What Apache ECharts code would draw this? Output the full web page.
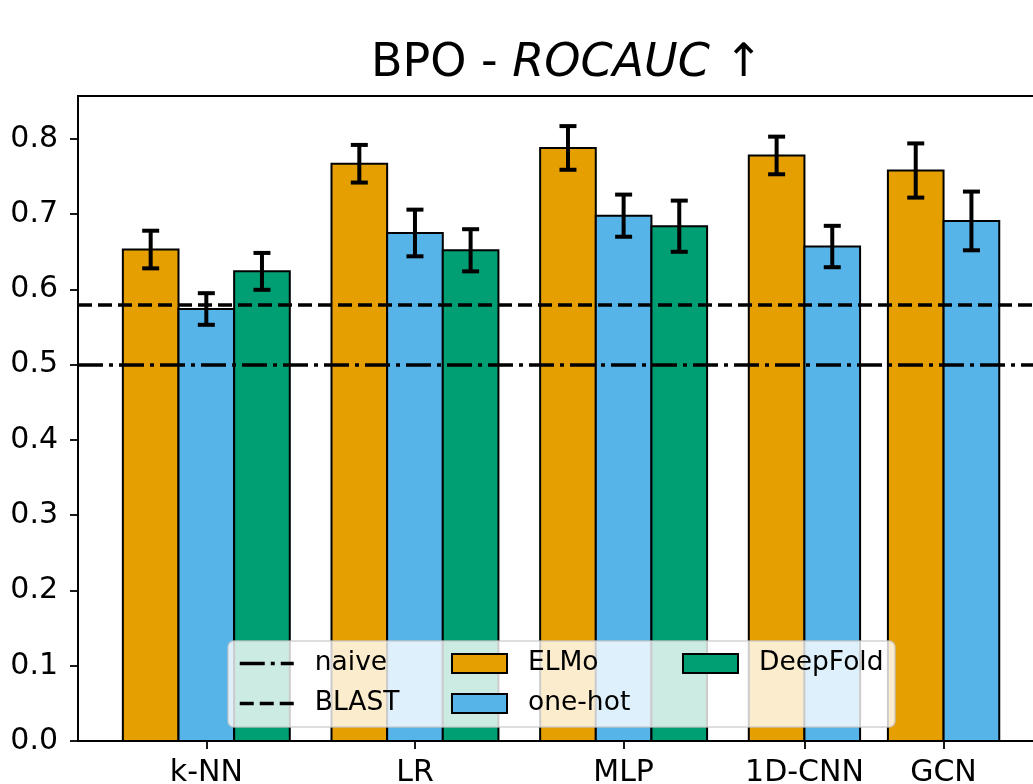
<!DOCTYPE html>
<html>
<head>
<meta charset="utf-8">
<script src="https://cdn.jsdelivr.net/npm/echarts@6/dist/echarts.min.js"></script>
<style>
html,body{margin:0;padding:0;background:#fff;}
#chart{width:1033px;height:784px;}
</style>
</head>
<body>
<div id="chart"></div>
<script>
// ---- data ----
const categories = ['k-NN', 'LR', 'MLP', '1D-CNN', 'GCN'];
const categoryPositions = [0, 1, 2, 2.867, 3.533];
const barWidthUnits = 0.2667;

const elmoX = [-0.2667, 0.7333, 1.7333, 2.7333, 3.4];
const elmoMean = [0.653, 0.767, 0.788, 0.778, 0.758];
const elmoErr = [0.025, 0.025, 0.029, 0.025, 0.036];

const onehotX = [0, 1, 2, 3, 3.667];
const onehotMean = [0.574, 0.675, 0.698, 0.657, 0.691];
const onehotErr = [0.021, 0.031, 0.028, 0.0275, 0.039];

const deepfoldX = [0.2667, 1.2667, 2.2667];
const deepfoldMean = [0.624, 0.652, 0.684];
const deepfoldErr = [0.0245, 0.028, 0.034];

const naiveValue = 0.5;
const blastValue = 0.583;

const yTickValues = [0, 0.1, 0.2, 0.3, 0.4, 0.5, 0.6, 0.7, 0.8];

// ---- build ----
const FONT = 'DejaVu Sans';
const colors = { ELMo: '#E69F00', 'one-hot': '#56B4E9', DeepFold: '#009E73' };
const naiveDash = [25, 6, 4, 6];
const blastDash = [14, 6];

function zip(xs, ys, es) {
  return xs.map((x, i) => es ? [x, ys[i], es[i]] : [x, ys[i]]);
}

function barRender(params, api) {
  const x = api.value(0), y = api.value(1);
  const p0 = api.coord([x - barWidthUnits / 2, y]);
  const p1 = api.coord([x + barWidthUnits / 2, 0]);
  return {
    type: 'rect',
    shape: { x: p0[0], y: p0[1], width: p1[0] - p0[0], height: p1[1] - p0[1] },
    style: { fill: api.visual('color'), stroke: '#000', lineWidth: 2 }
  };
}

function errRender(params, api) {
  const x = api.value(0), m = api.value(1), e = api.value(2);
  const top = api.coord([x, m + e]);
  const bot = api.coord([x, m - e]);
  const cap = 8.5;
  const st = { stroke: '#000', lineWidth: 4 };
  return {
    type: 'group',
    children: [
      { type: 'line', shape: { x1: top[0], y1: top[1], x2: bot[0], y2: bot[1] }, style: st },
      { type: 'line', shape: { x1: top[0] - cap, y1: top[1], x2: top[0] + cap, y2: top[1] }, style: st },
      { type: 'line', shape: { x1: bot[0] - cap, y1: bot[1], x2: bot[0] + cap, y2: bot[1] }, style: st }
    ]
  };
}

function barSeries(name, xs, ys) {
  return {
    name: name, type: 'custom', renderItem: barRender, z: 2,
    itemStyle: { color: colors[name], borderColor: '#000', borderWidth: 2 },
    encode: { x: 0, y: 1 },
    data: zip(xs, ys)
  };
}
function errSeries(name, xs, ys, es) {
  return {
    name: name + ' err', type: 'custom', renderItem: errRender, z: 4,
    encode: { x: 0, y: [1] },
    data: zip(xs, ys, es)
  };
}
function hLine(name, value, dash) {
  return {
    name: name, type: 'line', data: [], symbol: 'none', z: 5,
    lineStyle: { color: '#000', width: 3.5, type: dash },
    itemStyle: { color: '#000' },
    markLine: {
      silent: true, symbol: 'none', label: { show: false },
      lineStyle: { color: '#000', width: 3.5, type: dash },
      emphasis: { disabled: true },
      animation: false,
      data: [{ yAxis: value }]
    }
  };
}

const legendText = { fontFamily: FONT, fontSize: 26.5, color: '#000', padding: [0, 0, 0, 16] };

const option = {
  animation: false,
  backgroundColor: '#fff',
  title: {
    text: '{a|BPO - }{b|ROCAUC}{a| ↑}',
    left: 562, top: 36, textAlign: 'center',
    textStyle: {
      fontWeight: 'normal',
      rich: {
        a: { fontFamily: FONT, fontSize: 46, color: '#000', fontWeight: 'normal' },
        b: { fontFamily: FONT, fontSize: 46, color: '#000', fontStyle: 'italic', fontWeight: 'normal' }
      }
    }
  },
  grid: {
    left: 78, right: -10, top: 96, bottom: 43,
    outerBoundsMode: 'none', containLabel: false,
    show: true, borderColor: '#000', borderWidth: 1.8, backgroundColor: 'transparent'
  },
  xAxis: {
    type: 'value', min: -0.615, max: 4.01,
    splitLine: { show: false },
    axisLine: { show: true, onZero: false, lineStyle: { color: '#000', width: 1.8 } },
    axisTick: { show: true, customValues: categoryPositions, length: 8, lineStyle: { color: '#000', width: 1.8 } },
    axisLabel: {
      customValues: categoryPositions,
      hideOverlap: false,
      formatter: function (v) {
        let best = 0;
        categoryPositions.forEach((p, i) => { if (Math.abs(p - v) < Math.abs(categoryPositions[best] - v)) best = i; });
        return categories[best];
      },
      fontFamily: FONT, fontSize: 30, color: '#000', margin: 17
    }
  },
  yAxis: {
    type: 'value', min: 0, max: 0.857,
    splitLine: { show: false },
    axisLine: { show: true, onZero: false, lineStyle: { color: '#000', width: 1.8 } },
    axisTick: { show: true, customValues: yTickValues, length: 8, lineStyle: { color: '#000', width: 1.8 } },
    axisLabel: {
      customValues: yTickValues,
      formatter: v => v.toFixed(1),
      fontFamily: FONT, fontSize: 30, color: '#000', margin: 20
    }
  },
  legend: [
    {
      orient: 'vertical', left: 238, top: 650, padding: 0, itemGap: 13,
      itemWidth: 54, itemHeight: 19, z: 60,
      itemStyle: { opacity: 0, color: 'transparent', borderWidth: 0 },
      data: [
        { name: 'naive', lineStyle: { color: '#000', width: 3.5, type: naiveDash } },
        { name: 'BLAST', lineStyle: { color: '#000', width: 3.5, type: blastDash } }
      ],
      lineStyle: { width: 3.5 },
      textStyle: legendText, selectedMode: false
    },
    {
      orient: 'vertical', left: 451, top: 650, padding: 0, itemGap: 13,
      itemWidth: 55, itemHeight: 19, z: 60, icon: 'rect',
      itemStyle: { borderColor: '#000', borderWidth: 2 },
      data: ['ELMo', 'one-hot'], textStyle: legendText, selectedMode: false
    },
    {
      orient: 'vertical', left: 682, top: 650, padding: 0, itemGap: 13,
      itemWidth: 55, itemHeight: 19, z: 60, icon: 'rect',
      itemStyle: { borderColor: '#000', borderWidth: 2 },
      data: ['DeepFold'], textStyle: legendText, selectedMode: false
    }
  ],
  graphic: [{
    type: 'rect', z: 50, silent: true,
    shape: { x: 228, y: 641, width: 667, height: 86, r: 6 },
    style: { fill: 'rgba(255,255,255,0.8)', stroke: 'rgba(200,200,200,0.8)', lineWidth: 1.5 }
  }],
  series: [
    barSeries('ELMo', elmoX, elmoMean),
    barSeries('one-hot', onehotX, onehotMean),
    barSeries('DeepFold', deepfoldX, deepfoldMean),
    errSeries('ELMo', elmoX, elmoMean, elmoErr),
    errSeries('one-hot', onehotX, onehotMean, onehotErr),
    errSeries('DeepFold', deepfoldX, deepfoldMean, deepfoldErr),
    hLine('naive', naiveValue, naiveDash),
    hLine('BLAST', blastValue, blastDash)
  ]
};

const chart = echarts.init(document.getElementById('chart'), null, { renderer: 'canvas' });
chart.setOption(option);
</script>
</body>
</html>
